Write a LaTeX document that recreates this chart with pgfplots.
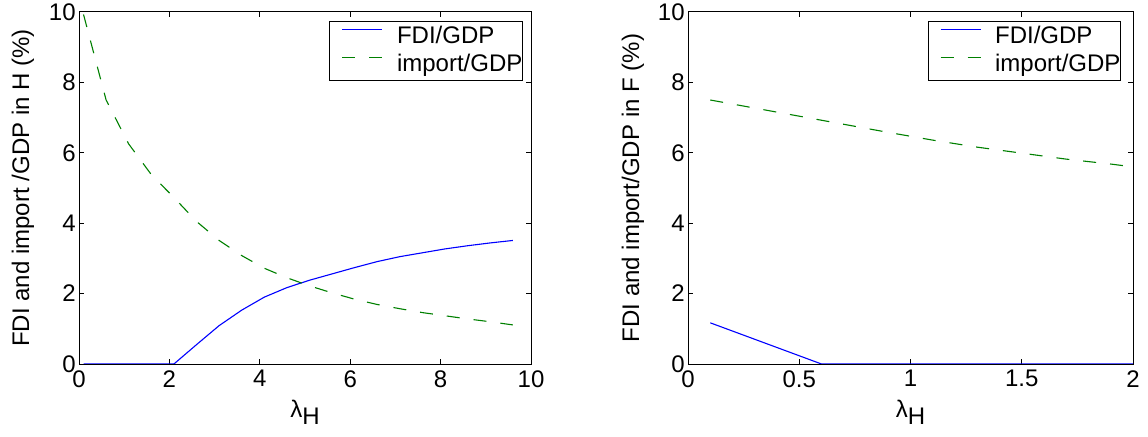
\documentclass[border=0pt]{standalone}
\usepackage{fontspec}
\setmainfont{Liberation Sans}
\usepackage{pgfplots}
\pgfplotsset{compat=1.18}
\definecolor{mblue}{rgb}{0,0,1}
\definecolor{mgreen}{rgb}{0,0.5,0}
\newcommand{\fs}{\fontsize{12bp}{14bp}\selectfont}
\begin{document}
\fs
\begin{tikzpicture}
\pgfplotsset{
  every axis/.append style={
    scale only axis,
    height=176bp,
    ymin=0, ymax=10, ytick={0,2,4,6,8,10},
    tick align=inside,
    major tick length=2.5bp,
    axis line style={line width=0.5bp},
    every tick/.style={black, line width=0.5bp},
    /pgf/number format/assume math mode=true,
    ticklabel style={font=\fs},
    yticklabel style={inner xsep=1.5bp},
    xticklabel style={inner ysep=3bp},
    label style={font=\fs},
    every axis x label/.style={at={(axis description cs:0.5,-0.136)}, anchor=center},
    every axis y label/.style={at={(axis description cs:-0.124,0.5)}, rotate=90, anchor=center},
    legend cell align=left,
    legend image code/.code={\path (0bp,0bp); \draw[#1] (6bp,4bp) -- (26bp,4bp); \path (33bp,0bp);},
    legend style={font=\fs, draw=black, line width=0.5bp, inner xsep=0bp, inner ysep=1.75bp,
      nodes={inner sep=0bp, text height=9bp, text depth=3bp}, row sep=2bp, anchor=north east},
  },
  blueline/.style={draw=mblue, color=mblue, line width=0.55bp, no marks},
  greenline/.style={draw=mgreen, color=mgreen, line width=0.55bp, no marks, dash pattern=on 6.5bp off 7bp},
}
\path[use as bounding box] (0,0) rectangle (574bp,218.5bp);

\begin{axis}[at={(39.5bp,36.5bp)}, anchor=south west, width=226bp,
  xmin=0, xmax=10, xtick={0,2,4,6,8,10},
  xlabel={λ\raisebox{-0.55ex}{H}},
  ylabel={FDI and import /GDP in H (\%)},
  legend style={at={(0.982,0.974)}}]
\addplot[blueline] coordinates {
(0.1,0) (0.6,0) (1.1,0) (1.6,0) (2.1,0) (2.6,0.55) (3.1,1.09) (3.6,1.53) (4.1,1.90)
(4.6,2.17) (5.1,2.38) (5.6,2.56) (6.1,2.74) (6.6,2.91) (7.1,3.05) (7.6,3.16)
(8.1,3.27) (8.6,3.36) (9.1,3.44) (9.6,3.51)};
\addlegendentry{FDI/GDP}
\addplot[greenline] coordinates {
(0.1,9.93) (0.6,7.50) (1.1,6.25) (1.6,5.38) (2.1,4.73) (2.6,4.05) (3.1,3.51) (3.6,3.08)
(4.1,2.72) (4.6,2.45) (5.1,2.22) (5.6,2.02) (6.1,1.84) (6.6,1.69) (7.1,1.57) (7.6,1.46)
(8.1,1.37) (8.6,1.28) (9.1,1.20) (9.6,1.11)};
\addlegendentry{import/GDP\hspace{9bp}}
\end{axis}

\begin{axis}[at={(344bp,36.5bp)}, anchor=south west, width=222.5bp,
  xmin=0, xmax=2, xtick={0,0.5,1,1.5,2},
  xlabel={λ\raisebox{-0.55ex}{H}},
  ylabel={FDI and import/GDP in F (\%)},
  legend style={at={(0.973,0.974)}}]
\addplot[blueline] coordinates {(0.1,1.17) (0.6,0) (1.0,0) (1.5,0) (2.0,0)};
\addlegendentry{FDI/GDP}
\addplot[greenline] coordinates {
(0.1,7.50) (0.3,7.27) (0.5,7.04) (0.7,6.81) (0.9,6.58) (1.1,6.36) (1.3,6.16)
(1.5,5.99) (1.7,5.82) (1.9,5.68) (2.0,5.60)};
\addlegendentry{import/GDP\hspace{8bp}}
\end{axis}
\end{tikzpicture}
\end{document}
